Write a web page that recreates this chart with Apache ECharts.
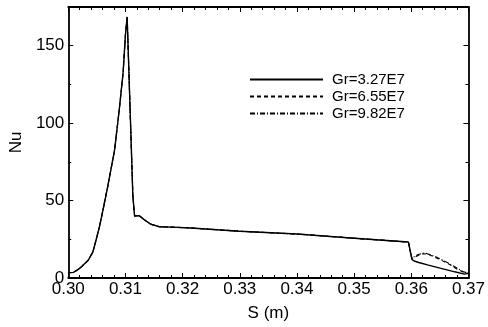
<!DOCTYPE html>
<html><head><meta charset="utf-8">
<script src="https://cdn.jsdelivr.net/npm/echarts@6/dist/echarts.min.js"></script>
<style>html,body{margin:0;padding:0;background:#fff}#c{width:488px;height:327px}</style>
</head><body><div id="c"></div>
<script>
// Shared part (all three curves coincide up to S = 0.3598)
const sShared = [0.3000,0.3009,0.3016,0.3023,0.3035,0.3043,0.3049,0.3055,0.3061,0.3069,0.3081,0.3089,0.3096,0.3100,0.3103,0.3113,0.3116,0.3124,0.3133,0.3144,0.3159,0.3191,0.3214,0.3300,0.3400,0.3500,0.3595,0.3598];
const nuShared = [3.5,3.6,5.2,7.2,11.5,16.8,25,33.8,44.4,59,82.6,108,133,157,168.6,53,40,40.3,37.6,34.8,33.1,32.7,32.3,30.2,28.4,25.7,23.2,23];
// Tail after the step at S = 0.36
const sTail1 = [0.3601,0.3605,0.3613,0.3630,0.3652,0.3676,0.3693,0.3700];
const nuTail1 = [12,11,10,8.3,6.2,4,2.5,3];
const sTail2 = [0.3601,0.3612,0.3620,0.3630,0.3647,0.3664,0.3681,0.3693,0.3700];
const nuTail2 = [12.5,14.6,15.7,15.3,12.5,9.4,5.5,3.4,3];
const sTail3 = [0.3601,0.3612,0.3623,0.3640,0.3657,0.3676,0.3690,0.3700];
const nuTail3 = [13,15.2,16.2,14.2,11.2,7.2,4.2,3];
const seriesNames = ['Gr=3.27E7','Gr=6.55E7','Gr=9.82E7'];
const xTicks = [0.30,0.31,0.32,0.33,0.34,0.35,0.36,0.37];
const yTicks = [0,50,100,150];

function pairs(xs, ys){ return xs.map((x,i)=>[x, ys[i]]); }
const data1 = pairs(sShared.concat(sTail1), nuShared.concat(nuTail1));
const data2 = pairs(sShared.concat(sTail2), nuShared.concat(nuTail2));
const data3 = pairs(sShared.concat(sTail3), nuShared.concat(nuTail3));

const FONT = 'Liberation Sans, Arial, sans-serif';
const chart = echarts.init(document.getElementById('c'), null, {renderer:'canvas'});
const axisLine = {show:true, onZero:false, lineStyle:{color:'#000', width:1.8}};
const xBase = {
  type:'value', min:0.30, max:0.37, interval:0.01,
  axisLine, axisTick:{show:true, inside:true, length:5, lineStyle:{color:'#000',width:1}},
  minorTick:{show:true, splitNumber:5, length:3, lineStyle:{color:'#000',width:1}},
  splitLine:{show:false}
};
const yBase = {
  type:'value', min:0, max:175, interval:50,
  axisLine, axisTick:{show:true, inside:true, length:5, lineStyle:{color:'#000',width:1}},
  minorTick:{show:true, splitNumber:2, length:3, lineStyle:{color:'#000',width:1}},
  splitLine:{show:false}
};
chart.setOption({
  animation:false,
  backgroundColor:'#fff',
  grid:{left:67, right:17, top:7, bottom:44},
  legend:{
    orient:'vertical', left:249, top:72, padding:0, itemGap:2, itemWidth:73, itemHeight:15,
    itemStyle:{opacity:0},
    textStyle:{fontFamily:FONT, fontSize:15, color:'#000', padding:[0,0,0,4]},
    data:seriesNames
  },
  xAxis:[
    Object.assign({}, xBase, {
      position:'bottom', name:'S (m)', nameLocation:'middle', nameGap:27,
      nameTextStyle:{fontFamily:FONT, fontSize:17, color:'#000'},
      axisLabel:{fontFamily:FONT, fontSize:17, color:'#000', margin:3,
        formatter:v=>{ const t = xTicks.find(k=>Math.abs(k-v)<1e-6); return t===undefined?'':t.toFixed(2); }}
    }),
    Object.assign({}, xBase, {position:'top', axisLabel:{show:false}})
  ],
  yAxis:[
    Object.assign({}, yBase, {
      position:'left', name:'Nu', nameLocation:'middle', nameGap:37,
      nameTextStyle:{fontFamily:FONT, fontSize:17, color:'#000'},
      axisLabel:{fontFamily:FONT, fontSize:17, color:'#000', margin:4,
        formatter:v=> yTicks.includes(v) ? String(v) : ''}
    }),
    Object.assign({}, yBase, {position:'right', axisLabel:{show:false}})
  ],
  series:[
    {name:seriesNames[0], type:'line', data:data1, symbol:'none', z:5,
      lineStyle:{color:'#000', width:1.4, type:'solid'}, itemStyle:{color:'#000'}},
    {name:seriesNames[1], type:'line', data:data2, symbol:'none', z:4,
      lineStyle:{color:'#000', width:1.1, type:[4,3]}, itemStyle:{color:'#000'}},
    {name:seriesNames[2], type:'line', data:data3, symbol:'none', z:3,
      lineStyle:{color:'#000', width:1.1, type:[5,2,1,2]}, itemStyle:{color:'#000'}}
  ]
});
</script></body></html>
